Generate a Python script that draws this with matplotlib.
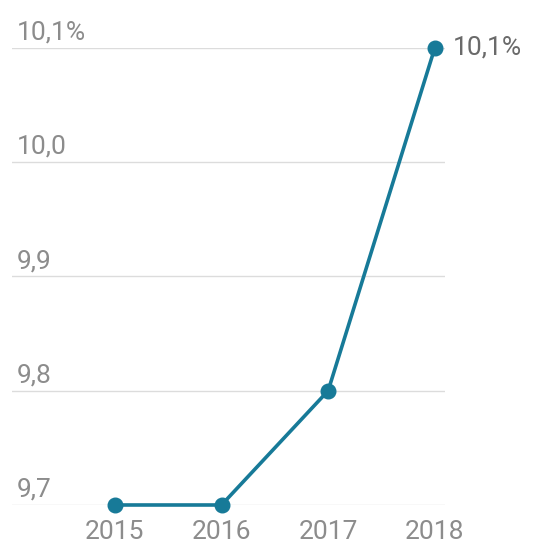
import matplotlib.pyplot as plt

# Data
years = ['2015', '2016', '2017', '2018']
values = [9.7, 9.7, 9.8, 10.1]
y_ticks = [9.7, 9.8, 9.9, 10.0, 10.1]
y_labels = ['9,7', '9,8', '9,9', '10,0', '10,1%']
last_label = '10,1%'

plt.rcParams['font.family'] = ['Roboto', 'DejaVu Sans']

line_color = '#177a98'
grid_color = '#dcdcdc'
text_color = '#8c8c8c'

fig = plt.figure(figsize=(5.35, 5.47), dpi=100)
ax = fig.add_axes([0.0224, 0.0768, 0.809, 0.8355])

x = range(len(years))
ax.plot(x, values, '-', color=line_color, linewidth=2.6, marker='o',
        markersize=10.5, clip_on=False, zorder=3)

ax.set_xlim(-0.965, 3.094)
ax.set_ylim(9.7, 10.1)

# grid lines and left-aligned labels above them
for yv, lab in zip(y_ticks, y_labels):
    ax.axhline(yv, color=grid_color, linewidth=1, zorder=1)
    ax.annotate(lab, xy=(0, yv), xycoords=('axes fraction', 'data'),
                xytext=(3.5, 6), textcoords='offset points',
                ha='left', va='baseline', fontsize=19, color=text_color)

ax.annotate(last_label, xy=(3, values[-1]), xytext=(13, 0),
            textcoords='offset points', ha='left', va='center',
            fontsize=19, color='#6a6a6a', annotation_clip=False)

ax.set_xticks(list(x))
ax.set_xticklabels(years, fontsize=19, color=text_color)
ax.set_yticks([])
ax.tick_params(axis='x', length=0, pad=11)
for s in ax.spines.values():
    s.set_visible(False)

fig.savefig('out.png', dpi=100)
